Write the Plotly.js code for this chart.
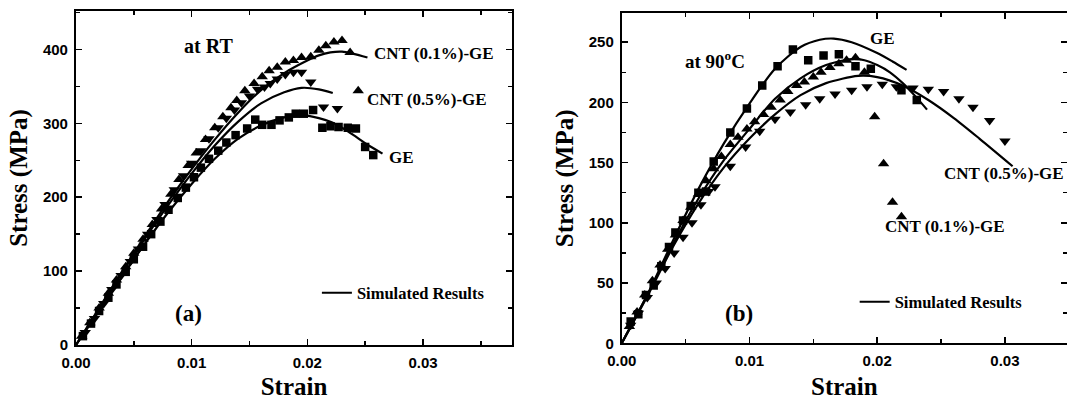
<!DOCTYPE html>
<html>
<head>
<meta charset="utf-8">
<script src="https://cdn.plot.ly/plotly-3.0.1.min.js"></script>
<style>html,body{margin:0;padding:0;background:#fff;}#chart{width:1067px;height:400px;}</style>
</head>
<body>
<div id="chart"></div>
<script>
// ---------- Panel (a): at RT ----------
const geA_x = [0.0006,0.0013,0.0020,0.0028,0.0035,0.0043,0.0050,0.0058,0.0065,0.0073,0.0080,0.0088,0.0095,0.0102,0.0108,0.0115,0.0123,0.0130,0.0138,0.0148,0.0155,0.0161,0.0169,0.0176,0.0184,0.0190,0.0197,0.0205,0.0213,0.0220,0.0227,0.0235,0.0242,0.0250,0.0257];
const geA_y = [12,29,46,64,82,99,116,133,150,167,183,199,213,227,240,252,263,274,284,293,305,298,298,304,308,313,313,318,294,296,295,294,293,268,257];
const c1A_x = [0.0005,0.0012,0.0020,0.0028,0.0035,0.0043,0.0050,0.0058,0.0066,0.0074,0.0082,0.0089,0.0097,0.0104,0.0112,0.0120,0.0127,0.0134,0.0139,0.0146,0.0154,0.0161,0.0167,0.0174,0.0181,0.0188,0.0195,0.0203,0.0210,0.0216,0.0223,0.0230,0.0237,0.0244];
const c1A_y = [12,30,50,70,88,106,124,143,163,184,204,224,243,260,278,294,309,321,331,344,354,363,371,376,383,385,389,390,399,405,410,412,396,344];
const c5A_x = [0.0008,0.0016,0.0024,0.0031,0.0039,0.0047,0.0054,0.0062,0.0070,0.0077,0.0085,0.0093,0.0100,0.0108,0.0115,0.0123,0.0130,0.0137,0.0143,0.0150,0.0157,0.0163,0.0168,0.0174,0.0181,0.0188,0.0195,0.0203,0.0214,0.0226];
const c5A_y = [17,36,56,75,94,113,130,150,170,190,210,229,246,263,279,294,307,318,328,337,346,349,354,360,366,369,369,356,322,320];
const simGeA_x = [0,0.002,0.004,0.006,0.008,0.010,0.012,0.014,0.016,0.018,0.0195,0.021,0.022,0.023,0.024,0.025,0.0265];
const simGeA_y = [0,46,93,138,180,218,252,279,297,308,311,307,302,294,284,273,259];
const simC1A_x = [0,0.002,0.004,0.006,0.008,0.010,0.012,0.014,0.016,0.018,0.020,0.021,0.022,0.023,0.024,0.0252];
const simC1A_y = [0,50,100,148,195,238,278,314,345,368,385,392,396,397,394,389];
const simC5A_x = [0,0.002,0.004,0.006,0.008,0.010,0.012,0.014,0.016,0.018,0.0195,0.021,0.0222];
const simC5A_y = [0,49,98,145,190,232,270,302,327,342,348,346,341];

// ---------- Panel (b): at 90 C ----------
const geB_x = [0.0007,0.0013,0.0019,0.0025,0.0031,0.0037,0.0042,0.0048,0.0054,0.0060,0.0066,0.0072,0.0085,0.0098,0.0110,0.0122,0.0134,0.0146,0.0158,0.0170,0.0183,0.0195,0.0219,0.0231];
const geB_y = [18,24,40,48,64,80,92,102,114,125,126,151,175,195,214,230,244,235,239,240,230,228,210,202];
const c1B_x = [0.0006,0.0012,0.0018,0.0024,0.0030,0.0036,0.0042,0.0048,0.0054,0.0060,0.0066,0.0072,0.0078,0.0085,0.0091,0.0098,0.0104,0.0111,0.0117,0.0124,0.0130,0.0137,0.0143,0.0150,0.0156,0.0163,0.0170,0.0176,0.0183,0.0190,0.0198,0.0205,0.0212,0.0219];
const c1B_y = [14,26,40,52,65,78,90,102,113,124,135,145,155,165,171,178,184,190,196,202,209,214,217,221,225,229,232,235,237,225,188,149,117,105];
const c5B_x = [0.0007,0.0013,0.0020,0.0027,0.0034,0.0041,0.0048,0.0055,0.0062,0.0068,0.0073,0.0085,0.0097,0.0108,0.0120,0.0132,0.0144,0.0155,0.0167,0.0180,0.0192,0.0204,0.0215,0.0228,0.0240,0.0252,0.0264,0.0275,0.0288,0.0300];
const c5B_y = [15,25,38,50,62,75,88,100,115,126,130,147,163,176,186,192,198,203,207,210,213,215,213,212,211,209,203,196,185,168];
const simGeB_x = [0,0.002,0.004,0.006,0.008,0.010,0.012,0.014,0.0155,0.0166,0.018,0.020,0.0212,0.0223];
const simGeB_y = [0,40,85,128,166,199,228,246,252,253,250,241,234,227];
const simC1B_x = [0,0.002,0.004,0.006,0.008,0.010,0.012,0.014,0.016,0.018,0.019,0.020,0.021,0.022,0.023,0.0239];
const simC1B_y = [0,40,82,120,152,178,203,220,231,236,235,231,225,216,205,194];
const simC5B_x = [0,0.002,0.004,0.006,0.008,0.010,0.012,0.014,0.016,0.0185,0.020,0.022,0.024,0.026,0.028,0.0306];
const simC5B_y = [0,39,80,116,146,170,190,206,216,222,221,214,202,187,170,147];

const legendLabel = 'Simulated Results';

const serif = 'Liberation Serif, Times New Roman, serif';
const sans = 'Liberation Sans, Arial, sans-serif';

function pts(x, y, sym, size, xa, ya) {
  return {x: x, y: y, xaxis: xa, yaxis: ya, type: 'scatter', mode: 'markers',
    marker: {symbol: sym, size: size, color: '#000'}, showlegend: false, hoverinfo: 'skip'};
}
function sim(x, y, xa, ya, show, leg) {
  return {x: x, y: y, xaxis: xa, yaxis: ya, type: 'scatter', mode: 'lines',
    line: {color: '#000', width: 2.2, shape: 'spline', smoothing: 0.8},
    name: legendLabel, showlegend: show, legend: leg, hoverinfo: 'skip'};
}

const data = [
  pts(geA_x, geA_y, 'square', 8.5, 'x', 'y'),
  pts(c1A_x, c1A_y, 'triangle-up', 10, 'x', 'y'),
  pts(c5A_x, c5A_y, 'triangle-down', 10, 'x', 'y'),
  sim(simGeA_x, simGeA_y, 'x', 'y', true, 'legend'),
  sim(simC1A_x, simC1A_y, 'x', 'y', false, 'legend'),
  sim(simC5A_x, simC5A_y, 'x', 'y', false, 'legend'),
  pts(geB_x, geB_y, 'square', 8.5, 'x2', 'y2'),
  pts(c1B_x, c1B_y, 'triangle-up', 10, 'x2', 'y2'),
  pts(c5B_x, c5B_y, 'triangle-down', 10, 'x2', 'y2'),
  sim(simGeB_x, simGeB_y, 'x2', 'y2', true, 'legend2'),
  sim(simC1B_x, simC1B_y, 'x2', 'y2', false, 'legend2'),
  sim(simC5B_x, simC5B_y, 'x2', 'y2', false, 'legend2'),
  // invisible trace to carry the right-hand tick axis of panel (b)
  {x: [0], y: [0], xaxis: 'x2', yaxis: 'y3', type: 'scatter', mode: 'markers',
   marker: {size: 0, opacity: 0}, showlegend: false, hoverinfo: 'skip'}
];

const tickFont = {family: sans, size: 15, color: '#000', weight: 'bold'};
const titleFont = {family: serif, size: 25, color: '#000', weight: 'bold'};

function xax(domain, range) {
  return {domain: domain, range: range, showline: true, linewidth: 2, linecolor: '#000', mirror: 'ticks',
    ticks: 'inside', ticklen: 6, tickwidth: 1.5, tickcolor: '#000', tick0: 0, dtick: 0.01, tickformat: '.2f',
    minor: {dtick: 0.005, ticks: 'inside', ticklen: 4, tickwidth: 1.5, tickcolor: '#000', showgrid: false},
    showgrid: false, zeroline: false, tickfont: tickFont, fixedrange: true, ticklabelstandoff: 3,
    title: {text: 'Strain', font: titleFont, standoff: 9}};
}
function yax(domain, range, dt, mdt, anchor, mirror) {
  return {domain: domain, range: range, anchor: anchor, showline: true, linewidth: 2, linecolor: '#000', mirror: mirror,
    ticks: 'inside', ticklen: 6, tickwidth: 1.5, tickcolor: '#000', tick0: 0, dtick: dt,
    minor: {dtick: mdt, ticks: 'inside', ticklen: 4, tickwidth: 1.5, tickcolor: '#000', showgrid: false},
    showgrid: false, zeroline: false, tickfont: tickFont, fixedrange: true, ticklabelstandoff: 3,
    title: {text: 'Stress (MPa)', font: titleFont, standoff: 8}};
}

const annFont = (s) => ({family: serif, size: s, color: '#000', weight: 'bold'});
function ann(text, x, y, xa, ya, size, anchor) {
  return {text: text, x: x, y: y, xref: xa, yref: ya, showarrow: false, xanchor: anchor || 'left', yanchor: 'middle', font: annFont(size)};
}

const layout = {
  width: 1067, height: 400,
  margin: {l: 0, r: 0, t: 0, b: 0},
  paper_bgcolor: '#fff', plot_bgcolor: '#fff',
  xaxis: xax([0.0712, 0.4799], [0, 0.0377]),
  yaxis: yax([0.1375, 0.9725], [0, 452], 100, 50, 'x', 'ticks'),
  xaxis2: Object.assign(xax([0.5827, 1.0], [0, 0.03486]), {anchor: 'y2'}),
  yaxis2: yax([0.1418, 0.9668], [0, 274], 50, 25, 'x2', false),
  yaxis3: {overlaying: 'y2', side: 'right', anchor: 'x2', range: [0, 274], showline: false,
    ticks: 'inside', ticklen: 6, tickwidth: 1.5, tickcolor: '#000', tick0: 0, dtick: 50,
    minor: {dtick: 25, ticks: 'inside', ticklen: 4, tickwidth: 1.5, tickcolor: '#000', showgrid: false},
    showticklabels: false, showgrid: false, zeroline: false, fixedrange: true},
  showlegend: true,
  legend: {x: 0.297, y: 0.2675, xref: 'paper', yref: 'paper', xanchor: 'left', yanchor: 'middle',
    bgcolor: 'rgba(0,0,0,0)', itemwidth: 30, font: annFont(16.5)},
  legend2: {x: 0.801, y: 0.245, xref: 'paper', yref: 'paper', xanchor: 'left', yanchor: 'middle',
    bgcolor: 'rgba(0,0,0,0)', itemwidth: 30, font: annFont(16.5)},
  annotations: [
    ann('at RT', 0.01143, 405, 'x', 'y', 20, 'center'),
    ann('CNT (0.1%)-GE', 0.02563, 394, 'x', 'y', 17),
    ann('CNT (0.5%)-GE', 0.02502, 332, 'x', 'y', 17),
    ann('GE', 0.02693, 254, 'x', 'y', 17),
    ann('(a)', 0.0097, 43, 'x', 'y', 23, 'center'),
    ann('GE', 0.01928, 253, 'x2', 'y2', 17),
    ann('at 90<sup>o</sup>C', 0.0073, 235, 'x2', 'y2', 19, 'center'),
    ann('CNT (0.5%)-GE', 0.02507, 141, 'x2', 'y2', 17),
    ann('CNT (0.1%)-GE', 0.02045, 97, 'x2', 'y2', 17),
    ann('(b)', 0.00919, 25, 'x2', 'y2', 23, 'center')
  ]
};

Plotly.newPlot('chart', data, layout, {staticPlot: true, displayModeBar: false});
</script>
</body>
</html>
